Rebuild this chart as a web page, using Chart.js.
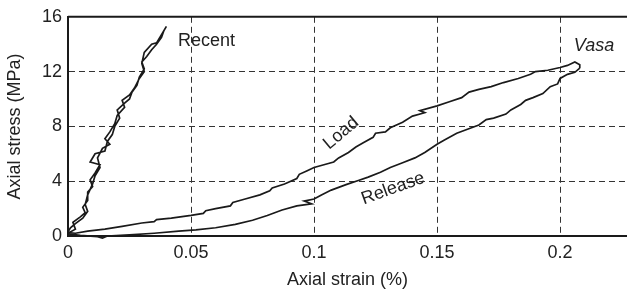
<!DOCTYPE html>
<html>
<head>
<meta charset="utf-8">
<script src="https://cdn.jsdelivr.net/npm/chart.js"></script>
<style>
  html, body { margin: 0; padding: 0; background: #fff; }
  #wrap { width: 627px; height: 295px; }
</style>
</head>
<body>
<div id="wrap"><canvas id="myChart" width="627" height="295"></canvas></div>
<script>
// Vasa oak, loading branch
const loadStrain = [0, 0.003, 0.008, 0.015, 0.022, 0.030, 0.035, 0.036, 0.042, 0.050, 0.055, 0.056, 0.060, 0.066, 0.067, 0.072, 0.078, 0.082, 0.083, 0.088, 0.093, 0.094, 0.097, 0.100, 0.104, 0.108, 0.110, 0.114, 0.117, 0.120, 0.124, 0.125, 0.129, 0.131, 0.136, 0.140, 0.145, 0.143, 0.150, 0.155, 0.160, 0.163, 0.167, 0.172, 0.177, 0.183, 0.188, 0.190, 0.195, 0.200, 0.203, 0.206, 0.208, 0.208];
const loadStress = [0.25, 0.2, 0.35, 0.5, 0.7, 0.95, 1.05, 1.2, 1.3, 1.5, 1.65, 1.85, 2.0, 2.2, 2.45, 2.7, 3.0, 3.3, 3.5, 3.8, 4.2, 4.5, 4.75, 5.0, 5.2, 5.4, 5.7, 6.1, 6.5, 6.8, 7.2, 7.5, 7.6, 7.9, 8.3, 8.75, 9.0, 9.15, 9.5, 9.8, 10.1, 10.5, 10.7, 10.9, 11.2, 11.5, 11.8, 12.0, 12.1, 12.3, 12.45, 12.7, 12.5, 12.25];

// Vasa oak, release branch
const releaseStrain = [0.208, 0.206, 0.203, 0.200, 0.199, 0.196, 0.193, 0.189, 0.186, 0.184, 0.180, 0.178, 0.173, 0.170, 0.167, 0.164, 0.158, 0.153, 0.150, 0.145, 0.141, 0.136, 0.131, 0.127, 0.122, 0.118, 0.113, 0.107, 0.103, 0.100, 0.096, 0.099, 0.093, 0.087, 0.081, 0.075, 0.068, 0.060, 0.052, 0.045, 0.035, 0.025, 0.016, 0.014, 0.012, 0.005, 0];
const releaseStress = [12.25, 11.95, 11.8, 11.5, 11.1, 10.9, 10.4, 10.1, 9.9, 9.6, 9.2, 8.9, 8.6, 8.5, 8.1, 7.9, 7.5, 7.0, 6.7, 6.1, 5.7, 5.35, 5.0, 4.65, 4.3, 4.05, 3.75, 3.35, 3.0, 2.7, 2.55, 2.35, 2.2, 1.9, 1.5, 1.15, 0.85, 0.6, 0.45, 0.35, 0.2, 0.08, 0.0, -0.15, -0.05, 0.05, 0.15];

// Recent oak, load and release
const recentStrain = [0, 0.003, 0.002, 0.005, 0.007, 0.006, 0.008, 0.008, 0.010, 0.009, 0.011, 0.013, 0.009, 0.011, 0.015, 0.016, 0.018, 0.019, 0.021, 0.020, 0.023, 0.025, 0.026, 0.028, 0.029, 0.031, 0.030, 0.032, 0.034, 0.036, 0.038, 0.039, 0.040,
  0.038, 0.036, 0.034, 0.031, 0.030, 0.031, 0.029, 0.027, 0.025, 0.022, 0.023, 0.020, 0.019, 0.017, 0.015, 0.017, 0.014, 0.012, 0.013, 0.011, 0.010, 0.008, 0.007, 0.008, 0.006, 0.003, 0.001, 0];
const recentStress = [0.2, 0.5, 1.0, 1.4, 1.7, 2.1, 2.6, 3.2, 3.6, 4.1, 4.6, 5.2, 5.4, 6.0, 6.2, 6.9, 7.4, 8.0, 8.6, 9.2, 9.7, 10.0, 10.5, 11.0, 11.6, 12.2, 12.7, 13.1, 13.6, 14.0, 14.5, 15.0, 15.3,
  14.7, 14.1, 14.0, 13.4, 12.6, 12.0, 11.5, 10.8, 10.3, 9.9, 9.4, 8.8, 8.2, 7.6, 7.1, 6.7, 6.4, 5.7, 5.0, 4.4, 3.8, 3.0, 2.3, 1.8, 1.3, 0.9, 0.6, 0.3];

const xTicks = [0, 0.05, 0.1, 0.15, 0.2];
const yTicks = [0, 4, 8, 12, 16];

// text labels placed in data coordinates
const curveLabels = [
  { text: 'Recent', x: 0.0447, y: 14.2, angle: 0, italic: false, align: 'left' },
  { text: 'Vasa', x: 0.2138, y: 13.9, angle: 0, italic: true, align: 'center' },
  { text: 'Load', x: 0.111, y: 7.5, angle: -40, italic: false, align: 'center' },
  { text: 'Release', x: 0.1321, y: 3.46, angle: -20, italic: false, align: 'center' }
];

const FONT = 'Liberation Sans, Arial, Helvetica, sans-serif';
const INK = '#1a1a1a';

function toPoints(xs, ys) {
  return xs.map((x, i) => ({ x: x, y: ys[i] }));
}

function lineSet(label, xs, ys) {
  return {
    label: label,
    data: toPoints(xs, ys),
    showLine: true,
    borderColor: INK,
    borderWidth: 1.7,
    pointRadius: 0,
    tension: 0,
    clip: 4
  };
}

const decorations = {
  id: 'decorations',
  afterDraw(chart) {
    const { ctx, chartArea, scales } = chart;
    // solid frame line on top
    ctx.save();
    ctx.strokeStyle = INK;
    ctx.lineWidth = 2;
    ctx.beginPath();
    ctx.moveTo(chartArea.left, chartArea.top);
    ctx.lineTo(chartArea.right, chartArea.top);
    ctx.stroke();

    ctx.fillStyle = '#222';
    ctx.textBaseline = 'middle';
    curveLabels.forEach(l => {
      ctx.save();
      ctx.translate(scales.x.getPixelForValue(l.x), scales.y.getPixelForValue(l.y));
      ctx.rotate(l.angle * Math.PI / 180);
      ctx.font = (l.italic ? 'italic ' : '') + '18px ' + FONT;
      ctx.textAlign = l.align;
      ctx.fillText(l.text, 0, 0);
      ctx.restore();
    });
    ctx.restore();
  }
};

const ctx = document.getElementById('myChart').getContext('2d');
const myChart = new Chart(ctx, {
  type: 'scatter',
  data: {
    datasets: [
      lineSet('Load', loadStrain, loadStress),
      lineSet('Release', releaseStrain, releaseStress),
      lineSet('Recent', recentStrain, recentStress)
    ]
  },
  options: {
    responsive: false,
    animation: false,
    layout: { padding: { top: 14, right: 0, left: 0, bottom: 0 } },
    plugins: {
      legend: { display: false },
      tooltip: { enabled: false }
    },
    scales: {
      x: {
        type: 'linear',
        min: 0,
        max: 0.2272,
        afterFit: (scale) => { scale.height = 59; },
        afterBuildTicks: (scale) => { scale.ticks = xTicks.map(v => ({ value: v })); },
        ticks: {
          color: '#222',
          padding: 6,
          maxRotation: 0,
          font: { family: FONT, size: 18 },
          callback: (v) => String(v)
        },
        grid: { color: '#333', lineWidth: 1, drawTicks: false },
        border: { color: INK, width: 2, dash: [6, 4] },
        title: {
          display: true,
          text: 'Axial strain (%)',
          color: '#222',
          font: { family: FONT, size: 18 },
          padding: { top: 0, bottom: 4 }
        }
      },
      y: {
        type: 'linear',
        min: 0,
        max: 16,
        afterFit: (scale) => { scale.width = 68; },
        afterBuildTicks: (scale) => { scale.ticks = yTicks.map(v => ({ value: v })); },
        ticks: {
          color: '#222',
          padding: 6,
          font: { family: FONT, size: 18 },
          callback: (v) => String(v)
        },
        grid: { color: '#333', lineWidth: 1, drawTicks: false },
        border: { color: INK, width: 2, dash: [6, 4] },
        title: {
          display: true,
          text: 'Axial stress (MPa)',
          color: '#222',
          font: { family: FONT, size: 18 },
          padding: { top: 4, bottom: 0 }
        }
      }
    }
  },
  plugins: [decorations]
});
</script>
</body>
</html>
